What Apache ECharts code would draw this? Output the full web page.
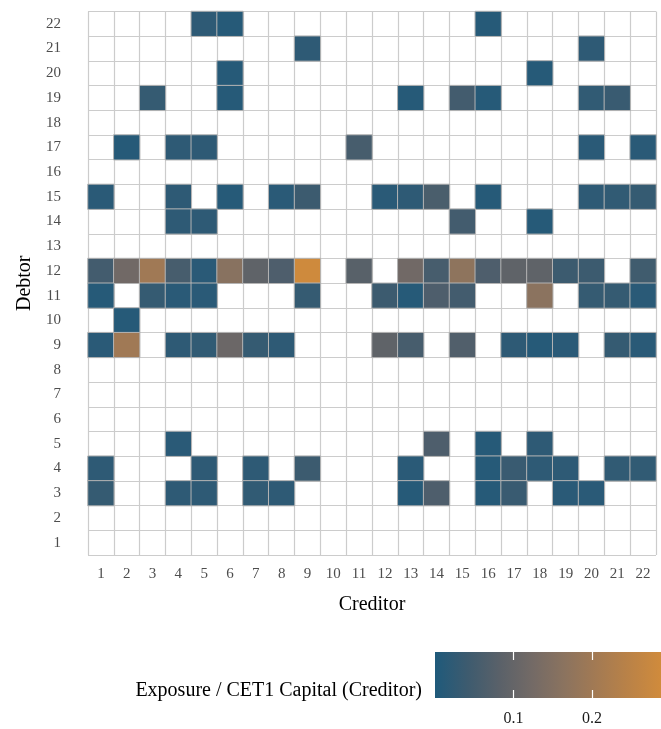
<!DOCTYPE html>
<html>
<head>
<meta charset="utf-8">
<script src="https://cdn.jsdelivr.net/npm/echarts@6/dist/echarts.min.js"></script>
<style>
  html, body { margin: 0; padding: 0; background: #fff; }
  #chart { width: 661px; height: 729px; }
</style>
</head>
<body>
<div id="chart"></div>
<script>
const creditors = Array.from({ length: 22 }, (_, i) => String(i + 1));
const debtors = Array.from({ length: 22 }, (_, i) => String(i + 1));

// [creditor, debtor, exposure / CET1 of creditor], only non-empty cells
const cells = [
  [5, 22, 0.02], [6, 22, 0.01], [16, 22, 0.01],
  [9, 21, 0.02], [20, 21, 0.02],
  [6, 20, 0.01], [18, 20, 0.01],
  [3, 19, 0.03], [6, 19, 0.01], [13, 19, 0.01], [15, 19, 0.05], [16, 19, 0.01], [20, 19, 0.025], [21, 19, 0.035],
  [2, 17, 0.01], [4, 17, 0.02], [5, 17, 0.02], [11, 17, 0.055], [20, 17, 0.015], [22, 17, 0.015],
  [1, 15, 0.015], [4, 15, 0.02], [6, 15, 0.01], [8, 15, 0.015], [9, 15, 0.04], [12, 15, 0.015], [13, 15, 0.02],
  [14, 15, 0.06], [16, 15, 0.01], [20, 15, 0.02], [21, 15, 0.025], [22, 15, 0.03],
  [4, 14, 0.02], [5, 14, 0.02], [15, 14, 0.05], [18, 14, 0.01],
  [1, 12, 0.05], [2, 12, 0.12], [3, 12, 0.2], [4, 12, 0.055], [5, 12, 0.015], [6, 12, 0.16], [7, 12, 0.09],
  [8, 12, 0.065], [9, 12, 0.285], [11, 12, 0.08], [13, 12, 0.12], [14, 12, 0.055], [15, 12, 0.17], [16, 12, 0.065],
  [17, 12, 0.09], [18, 12, 0.09], [19, 12, 0.04], [20, 12, 0.04], [22, 12, 0.045],
  [1, 11, 0.01], [3, 11, 0.03], [4, 11, 0.015], [5, 11, 0.015], [9, 11, 0.03], [12, 11, 0.04], [13, 11, 0.01],
  [14, 11, 0.065], [15, 11, 0.05], [18, 11, 0.165], [20, 11, 0.03], [21, 11, 0.03], [22, 11, 0.015],
  [2, 10, 0.01],
  [1, 9, 0.015], [2, 9, 0.2], [4, 9, 0.02], [5, 9, 0.025], [6, 9, 0.11], [7, 9, 0.03], [8, 9, 0.02],
  [12, 9, 0.09], [13, 9, 0.055], [15, 9, 0.07], [17, 9, 0.02], [18, 9, 0.01], [19, 9, 0.015], [21, 9, 0.03], [22, 9, 0.015],
  [4, 5, 0.015], [14, 5, 0.065], [16, 5, 0.01], [18, 5, 0.02],
  [1, 4, 0.02], [5, 4, 0.02], [7, 4, 0.02], [9, 4, 0.04], [13, 4, 0.015], [16, 4, 0.01], [17, 4, 0.035],
  [18, 4, 0.02], [19, 4, 0.02], [21, 4, 0.025], [22, 4, 0.025],
  [1, 3, 0.03], [4, 3, 0.02], [5, 3, 0.02], [7, 3, 0.025], [8, 3, 0.02], [13, 3, 0.01], [14, 3, 0.065],
  [16, 3, 0.01], [17, 3, 0.035], [19, 3, 0.015], [20, 3, 0.015],
];

const scaleMin = 0;
const scaleMax = 0.288;
const colorbarTicks = [0.1, 0.2];
const rampColors = ["#1f5a7b", "#3d5b6f", "#5a6169", "#736a66", "#8b735f", "#a37a53", "#ba8247", "#d08b3c"];

const chart = echarts.init(document.getElementById("chart"));
const serif = "Liberation Serif, Times New Roman, serif";

const heatData = cells.map(([c, d, v]) => [String(c), String(d), v]);
const rampStops = rampColors.map((color, i) => ({ offset: i / (rampColors.length - 1), color }));

const colorbarAxis = (position) => ({
  type: "value",
  gridIndex: 1,
  position,
  min: scaleMin,
  max: scaleMax,
  interval: 0.1,
  axisLine: { show: false },
  axisTick: { show: true, inside: true, length: 8, customValues: colorbarTicks, lineStyle: { color: "#fff", width: 1.2 } },
  axisLabel: position === "bottom"
    ? { fontFamily: serif, fontSize: 16, color: "#1a1a1a", margin: 13, customValues: colorbarTicks }
    : { show: false },
  splitLine: { show: false },
});

chart.setOption({
  animation: false,
  title: {
    text: "Exposure / CET1 Capital (Creditor)",
    right: 234,
    top: 676,
    textStyle: { fontFamily: serif, fontSize: 20, fontWeight: "normal", color: "#000" },
  },
  grid: [
    { left: 88, right: 5, top: 11.5, bottom: 174 },
    {
      left: 435, right: 0, top: 652, height: 46,
      show: true,
      borderWidth: 0,
      backgroundColor: new echarts.graphic.LinearGradient(0, 0, 1, 0, rampStops),
    },
  ],
  xAxis: [
    {
      type: "category",
      data: creditors,
      gridIndex: 0,
      name: "Creditor",
      nameLocation: "middle",
      nameGap: 40,
      nameTextStyle: { fontFamily: serif, fontSize: 20, color: "#000" },
      axisLine: { show: false },
      axisTick: { show: false },
      axisLabel: { fontFamily: serif, fontSize: 15, color: "#4d4d4d", margin: 12, interval: 0 },
      splitLine: { show: true, lineStyle: { color: "#cccccc", width: 1.2 } },
    },
    colorbarAxis("bottom"),
    colorbarAxis("top"),
  ],
  yAxis: [
    {
      type: "category",
      data: debtors,
      gridIndex: 0,
      name: "Debtor",
      nameLocation: "middle",
      nameGap: 46,
      nameRotate: 90,
      nameTextStyle: { fontFamily: serif, fontSize: 20, color: "#000" },
      axisLine: { show: false },
      axisTick: { show: false },
      axisLabel: { fontFamily: serif, fontSize: 15, color: "#4d4d4d", margin: 27, interval: 0 },
      splitLine: { show: true, lineStyle: { color: "#cccccc", width: 1.2 } },
    },
    {
      type: "value",
      gridIndex: 1,
      min: 0,
      max: 1,
      show: false,
    },
  ],
  visualMap: {
    show: false,
    type: "continuous",
    seriesIndex: 0,
    min: scaleMin,
    max: scaleMax,
    inRange: { color: rampColors },
  },
  series: [
    {
      type: "heatmap",
      xAxisIndex: 0,
      yAxisIndex: 0,
      data: heatData,
      itemStyle: { borderColor: "#b4b4b4", borderWidth: 1 },
      emphasis: { disabled: true },
    },
    {
      type: "scatter",
      xAxisIndex: 1,
      yAxisIndex: 1,
      data: [],
      silent: true,
    },
    {
      type: "scatter",
      xAxisIndex: 2,
      yAxisIndex: 1,
      data: [],
      silent: true,
    },
  ],
});
</script>
</body>
</html>
